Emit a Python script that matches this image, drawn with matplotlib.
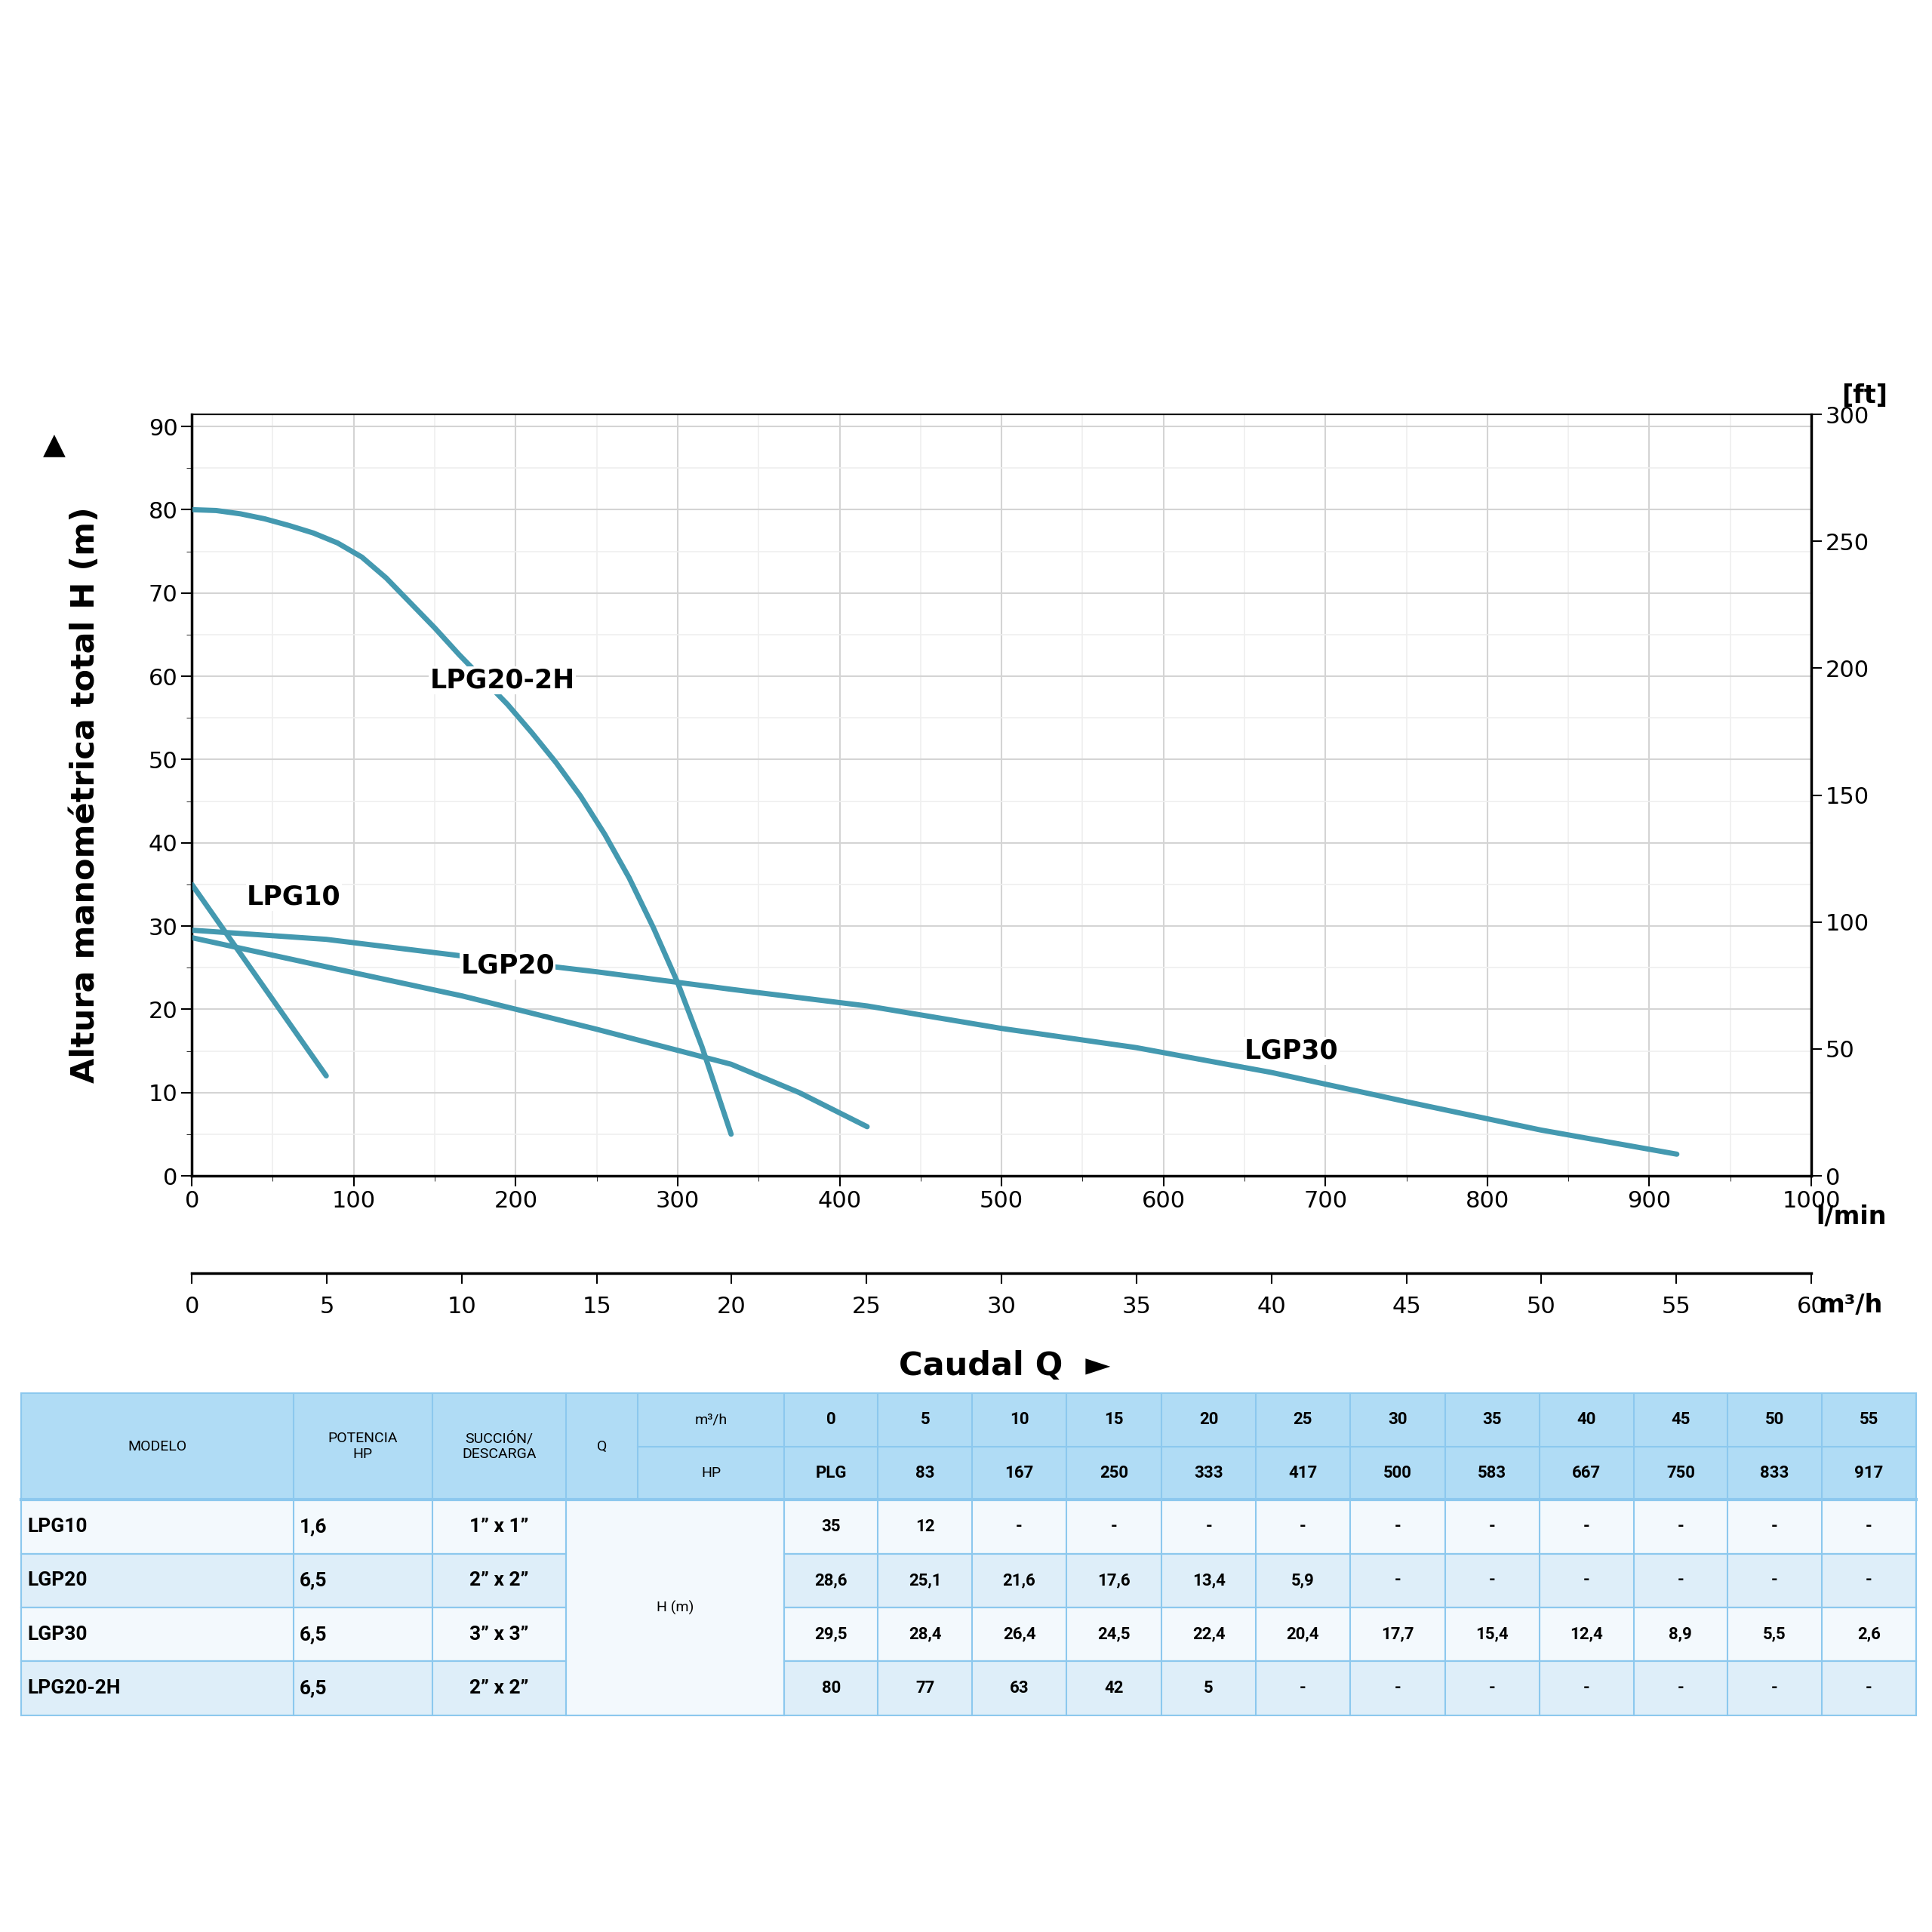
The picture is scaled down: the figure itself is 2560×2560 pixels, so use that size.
import matplotlib
matplotlib.use("Agg")
import matplotlib.pyplot as plt
from matplotlib.patches import Rectangle

# ---- data ----
lpg10_q = [0, 83]
lpg10_h = [35, 12]
lgp20_q = [0, 83, 167, 250, 333, 375, 417]
lgp20_h = [28.6, 25.1, 21.6, 17.6, 13.4, 10.0, 5.9]
lgp30_q = [0, 83, 167, 250, 333, 417, 500, 583, 667, 750, 833, 917]
lgp30_h = [29.5, 28.4, 26.4, 24.5, 22.4, 20.4, 17.7, 15.4, 12.4, 8.9, 5.5, 2.6]
lpg2h_q = [0, 15, 30, 45, 60, 75, 90, 105, 120, 135, 150, 165, 180, 195, 210, 225, 240, 255, 270, 285, 300, 315, 333]
lpg2h_h = [80, 79.9, 79.5, 78.9, 78.1, 77.2, 76.0, 74.3, 71.8, 68.8, 65.8, 62.6, 59.6, 56.6, 53.2, 49.6, 45.6, 41.0, 35.8, 29.8, 23.2, 15.5, 5]

col_hdr_m3h = ["0", "5", "10", "15", "20", "25", "30", "35", "40", "45", "50", "55"]
col_hdr_lmin = ["PLG", "83", "167", "250", "333", "417", "500", "583", "667", "750", "833", "917"]
models = ["LPG10", "LGP20", "LGP30", "LPG20-2H"]
power = ["1,6", "6,5", "6,5", "6,5"]
conn = ["1” x 1”", "2” x 2”", "3” x 3”", "2” x 2”"]
tbl = [
    ["35", "12", "-", "-", "-", "-", "-", "-", "-", "-", "-", "-"],
    ["28,6", "25,1", "21,6", "17,6", "13,4", "5,9", "-", "-", "-", "-", "-", "-"],
    ["29,5", "28,4", "26,4", "24,5", "22,4", "20,4", "17,7", "15,4", "12,4", "8,9", "5,5", "2,6"],
    ["80", "77", "63", "42", "5", "-", "-", "-", "-", "-", "-", "-"],
]

C = "#4499b0"
fig = plt.figure(figsize=(25.6, 25.6), dpi=100)
ax = fig.add_axes([0.0993, 0.3914, 0.8382, 0.3941])
for q, h in [(lpg10_q, lpg10_h), (lgp20_q, lgp20_h), (lgp30_q, lgp30_h), (lpg2h_q, lpg2h_h)]:
    ax.plot(q, h, color=C, lw=5, solid_capstyle="round", solid_joinstyle="round", zorder=3)
ax.set_xlim(0, 1000)
ax.set_ylim(0, 91.44)
ax.set_xticks(range(0, 1001, 100))
ax.set_xticks(range(0, 1001, 50), minor=True)
ax.set_yticks(range(0, 91, 10))
ax.set_yticks(range(0, 91, 5), minor=True)
ax.grid(which="major", color="#d4d4d4", lw=1.5)
ax.grid(which="minor", color="#efefef", lw=1.2)
ax.set_axisbelow(True)
ax.tick_params(labelsize=22, length=10, width=1.5)
ax.tick_params(which="minor", length=5)
for s in ax.spines.values():
    s.set_linewidth(2.5)
ax.spines["top"].set_linewidth(1.5)

ax2 = ax.twinx()
ax2.set_ylim(0, 300)
ax2.set_yticks(range(0, 301, 50))
ax2.tick_params(labelsize=22, length=10, width=1.5)
ax2.text(1.047, 1.008, "[ft]", transform=ax.transAxes, fontsize=24, fontweight="bold", ha="right", va="bottom")
ax.text(1.003, -0.054, "l/min", transform=ax.transAxes, fontsize=24, fontweight="bold", ha="left", va="center")

ax.set_ylabel("Altura manométrica total H (m)", fontsize=31, fontweight="bold", labelpad=45)
fig.text(0.028, 0.77, "▲", fontsize=28, ha="center", va="center")

bb = dict(facecolor="white", edgecolor="none", pad=1)
for txt, x, y in [("LPG20-2H", 147, 59.5), ("LPG10", 34, 33.5), ("LGP20", 166, 25.2), ("LGP30", 650, 15)]:
    ax.text(x, y, txt, fontsize=25, fontweight="bold", va="center", ha="left", bbox=bb, zorder=4)

# secondary m3/h axis
ax3 = fig.add_axes([0.0993, 0.340, 0.8382, 0.001])
ax3.set_xlim(0, 60)
ax3.set_xticks(range(0, 61, 5))
ax3.set_yticks([])
for k in ["left", "right", "bottom"]:
    ax3.spines[k].set_visible(False)
ax3.spines["top"].set_linewidth(2.5)
ax3.xaxis.set_ticks_position("top")
ax3.tick_params(axis="x", direction="in", labelsize=22, length=10, width=1.5, pad=20,
                labeltop=False, labelbottom=True)
fig.text(0.941, 0.3243, "m³/h", fontsize=24, fontweight="bold", ha="left", va="center")
fig.text(0.52, 0.293, "Caudal Q  ►", fontsize=31, fontweight="bold", ha="center", va="center")

# table
tx = fig.add_axes([0, 0, 1, 1])
tx.set_xlim(0, 1560); tx.set_ylim(1560, 0); tx.axis("off")
xs = [17, 237, 349, 457, 515, 633, 709, 785, 861, 938, 1014, 1090, 1167, 1243, 1319, 1395, 1471, 1547]
y0, ym, yh = 1125, 1168, 1211
rh = 43.5
hdr = "#b0dcf5"; line = "#8cc8ee"; rowc = ["#f3f9fd", "#deeef9"]
FF = ["Liberation Sans Narrow", "Roboto", "DejaVu Sans"]
fs = 16
tx.add_patch(Rectangle((xs[0], y0), xs[-1] - xs[0], yh - y0, fc=hdr, ec=line, lw=1.5))
for i in range(4):
    ya = yh + i * rh
    tx.add_patch(Rectangle((xs[0], ya), xs[-1] - xs[0], rh, fc=rowc[i % 2], ec=line, lw=1.5))
tx.add_patch(Rectangle((xs[3], yh), xs[5] - xs[3], 4 * rh, fc="#f3f9fd", ec=line, lw=1.5, zorder=2))
kw = dict(lw=1.5, color=line, zorder=3)
for k, x in enumerate(xs):
    if k == 4:
        tx.plot([x, x], [y0, yh], **kw)
    else:
        tx.plot([x, x], [y0, yh + 4 * rh], **kw)
tx.plot([xs[4], xs[-1]], [ym, ym], **kw)
tx.plot([xs[0], xs[-1]], [yh, yh], lw=3, color=line, zorder=3)
for i in range(1, 4):
    tx.plot([xs[0], xs[3]], [yh + i * rh] * 2, **kw)
    tx.plot([xs[5], xs[-1]], [yh + i * rh] * 2, **kw)

def t(x, y, s, ha="center", size=fs, w="bold"):
    tx.text(x, y, s, ha=ha, va="center", fontsize=size, family=FF, fontweight=w, zorder=5)

t((xs[0] + xs[1]) / 2, (y0 + yh) / 2, "MODELO", size=14, w="normal")
t((xs[1] + xs[2]) / 2, (y0 + yh) / 2, "POTENCIA\nHP", size=14, w="normal")
t((xs[2] + xs[3]) / 2, (y0 + yh) / 2, "SUCCIÓN/\nDESCARGA", size=14, w="normal")
t((xs[3] + xs[4]) / 2, (y0 + yh) / 2, "Q", size=14, w="normal")
t((xs[4] + xs[5]) / 2, (y0 + ym) / 2, "m³/h", size=14, w="normal")
t((xs[4] + xs[5]) / 2, (ym + yh) / 2, "HP", size=14, w="normal")
for j in range(12):
    cx = (xs[5 + j] + xs[6 + j]) / 2
    t(cx, (y0 + ym) / 2, col_hdr_m3h[j])
    t(cx, (ym + yh) / 2, col_hdr_lmin[j])
t((xs[3] + xs[5]) / 2, yh + 2 * rh, "H (m)", size=14, w="normal")
for i in range(4):
    cy = yh + (i + 0.5) * rh
    t(xs[0] + 5, cy, models[i], ha="left", size=19)
    t(xs[1] + 5, cy, power[i], ha="left", size=19)
    t((xs[2] + xs[3]) / 2, cy, conn[i], size=19)
    for j in range(12):
        t((xs[5 + j] + xs[6 + j]) / 2, cy, tbl[i][j])

fig.savefig("out.png", dpi=100)
